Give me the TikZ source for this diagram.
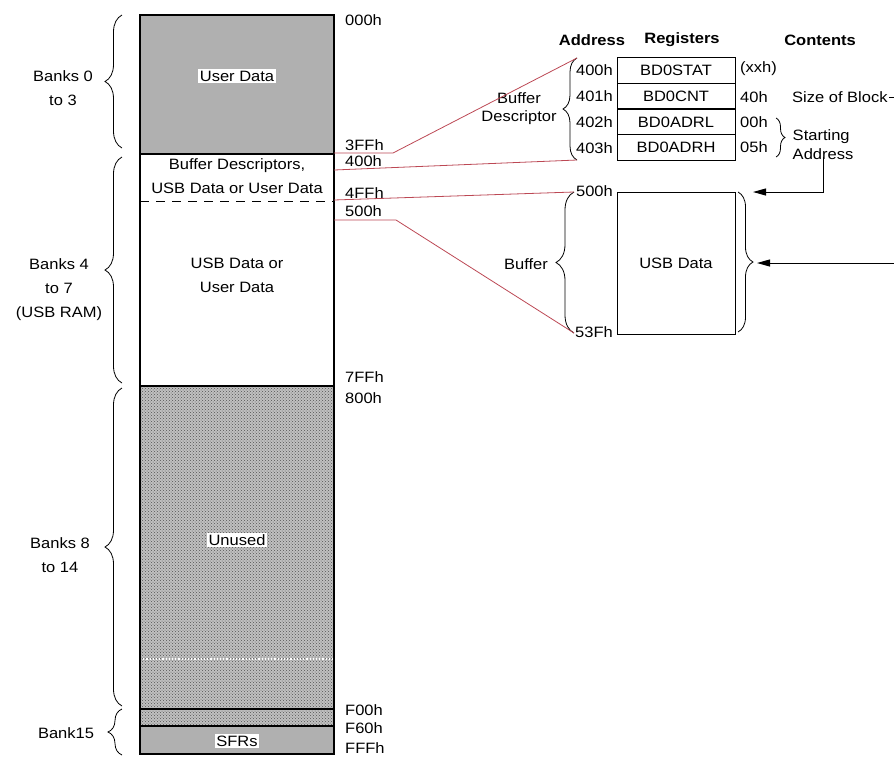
\documentclass[tikz,border=0pt]{standalone}
\usepackage{fontspec}
\setmainfont{Liberation Sans}[FakeStretch=1.1]
\usetikzlibrary{decorations.pathreplacing,patterns,arrows.meta}
\definecolor{redline}{RGB}{188,72,84}
\definecolor{usergray}{RGB}{176,176,176}
\definecolor{unusedgray}{RGB}{192,192,192}
\begin{document}
\begin{tikzpicture}[x=1pt,y=-1pt,
  font=\fontsize{15}{24}\selectfont,
  txt/.style={inner sep=0pt,align=center},
  addr/.style={inner sep=0pt,anchor=west},
  raddr/.style={inner sep=0pt,anchor=east},
  hdr/.style={inner sep=0pt,font=\fontsize{15}{18}\selectfont\bfseries},
  bbrace/.style={decorate,decoration={brace,amplitude=#1},line width=0.8pt},
  reg/.style={draw,line width=1pt,minimum width=118pt,minimum height=25.75pt,inner sep=0pt},
  redl/.style={draw=redline,line width=0.8pt},
  arr/.style={line width=1pt,-{Triangle[length=13pt,width=7pt]}},
  lbl/.style={fill=white,inner sep=1.5pt}
]
\useasboundingbox (0,0) rectangle (894,756);

% ---------- memory column ----------
\fill[usergray] (140,15) rectangle (334,154);
\fill[unusedgray] (140,386) rectangle (334,726);
\fill[pattern=crosshatch dots,pattern color=gray!65!black] (140,386) rectangle (334,726);
\fill[usergray] (140,726) rectangle (334,754);
\draw[dotted,white,line width=1.2pt] (140,659) -- (334,659);
\draw[line width=1.1pt] (140,386) -- (334,386);
\draw[line width=1.1pt] (140,709) -- (334,709);
\draw[line width=1.1pt] (140,726) -- (334,726);
\draw[dash pattern=on 9pt off 7pt,line width=1pt] (140,201) -- (334,201);
\draw[line width=2pt] (140,154) -- (334,154);
\draw[line width=1.2pt] (140,15) rectangle (334,754);

\node[lbl] (ud) at (237,76) {User Data};
\node[txt] (bd) at (237,176) {Buffer Descriptors,\\USB Data or User Data};
\node[txt] (usbu) at (237,275) {USB Data or\\User Data};
\node[lbl] (un) at (237,540) {Unused};
\node[lbl] (sfr) at (237,741) {SFRs};

% column edge coordinates
\coordinate (c3ff) at (334,153);
\coordinate (c400) at (334,170);
\coordinate (c4ff) at (334,200);
\coordinate (c500) at (334,220);

% ---------- addresses ----------
\node[addr] (a000) at (345,20) {000h};
\node[addr] (a3ff) at (345,145) {3FFh};
\node[addr] (a400) at (345,161) {400h};
\node[addr] (a4ff) at (345,193) {4FFh};
\node[addr] (a500) at (345,211) {500h};
\node[addr] (a7ff) at (345,377) {7FFh};
\node[addr] (a800) at (345,398) {800h};
\node[addr] (af00) at (345,710) {F00h};
\node[addr] (af60) at (345,728) {F60h};
\node[addr] (afff) at (345,748) {FFFh};

% ---------- left braces ----------
\draw[bbrace=17pt] (122,148) -- (122,15);
\draw[bbrace=17pt] (122,383) -- (122,157);
\draw[bbrace=17pt] (122,706) -- (122,388);
\draw[bbrace=14pt] (122,755) -- (122,709);
\node[txt] (b03) at (63,88) {Banks 0\\to 3};
\node[txt] (b47) at (59,290) {Banks 4\\to 7\\(USB RAM)};
\node[txt] (b814) at (60,555) {Banks 8\\to 14};
\node[txt] (b15) at (66,733) {Bank15};

% ---------- buffer descriptor table ----------
\node[hdr] (hAddr) at (592,40) {Address};
\node[hdr] (hReg) at (682,40) {Registers};
\node[hdr] (hCont) at (820,40) {Contents};

\node[reg] (r0) at (676,70.4) {BD0STAT};
\node[reg] (r1) at (676,96.1) {BD0CNT};
\node[reg] (r2) at (676,121.9) {BD0ADRL};
\node[reg] (r3) at (676,147.6) {BD0ADRH};

\node[raddr] (ad0) at (613,70) {400h};
\node[raddr] (ad1) at (613,96) {401h};
\node[raddr] (ad2) at (613,122) {402h};
\node[raddr] (ad3) at (613,148) {403h};

\node[addr] (ct0) at (740,69) {(xxh)};
\node[addr] (ct1) at (740,97) {40h};
\node[addr] (ct2) at (740,122) {00h};
\node[addr] (ct3) at (740,147) {05h};

\node[addr] (sob) at (792,97) {Size of Block};
\coordinate (sobend) at (894,97);
\draw[line width=1pt] (sob.east) ++(1pt,0) -- (sobend);

\draw[bbrace=9pt] (776,118) -- (776,157);
\node[txt,font=\fontsize{15}{19}\selectfont,align=left] (sa) at (823,145) {Starting\\Address};

\draw[bbrace=14pt] (577,160) -- (577,58);
\node[txt,font=\fontsize{15}{18}\selectfont] (bdesc) at (519,109) {Buffer\\Descriptor};
\coordinate (dtop) at (577,58);
\coordinate (dbot) at (577,160);

% ---------- buffer ----------
\node[draw,line width=1pt,minimum width=118pt,minimum height=142pt,inner sep=0pt] (usb) at (676,263) {USB Data};
\node[raddr] (b500) at (613,191) {500h};
\node[raddr] (b53f) at (613,332) {53Fh};
\draw[bbrace=18pt] (574,333) -- (574,192);
\node[txt] (buf) at (526,264) {Buffer};
\coordinate (btop) at (574,192);
\coordinate (bbot) at (574,333);
\draw[bbrace=15pt] (738,192) -- (738,332);

\coordinate (sarrow) at (753,192);
\draw[arr] (sa.south) ++(0,3pt) |- (sarrow);
\coordinate (rin) at (894,263);
\coordinate (usbtip) at (757,263);
\draw[arr] (rin) -- (usbtip);

% ---------- red connectors ----------
\draw[redl] (c3ff) -- ++(59,0) -- (dtop);
\draw[redl] (c400) -- (dbot);
\draw[redl] (c4ff) -- (btop);
\draw[redl] (c500) -- ++(62,0) -- (bbot);
\end{tikzpicture}
\end{document}
